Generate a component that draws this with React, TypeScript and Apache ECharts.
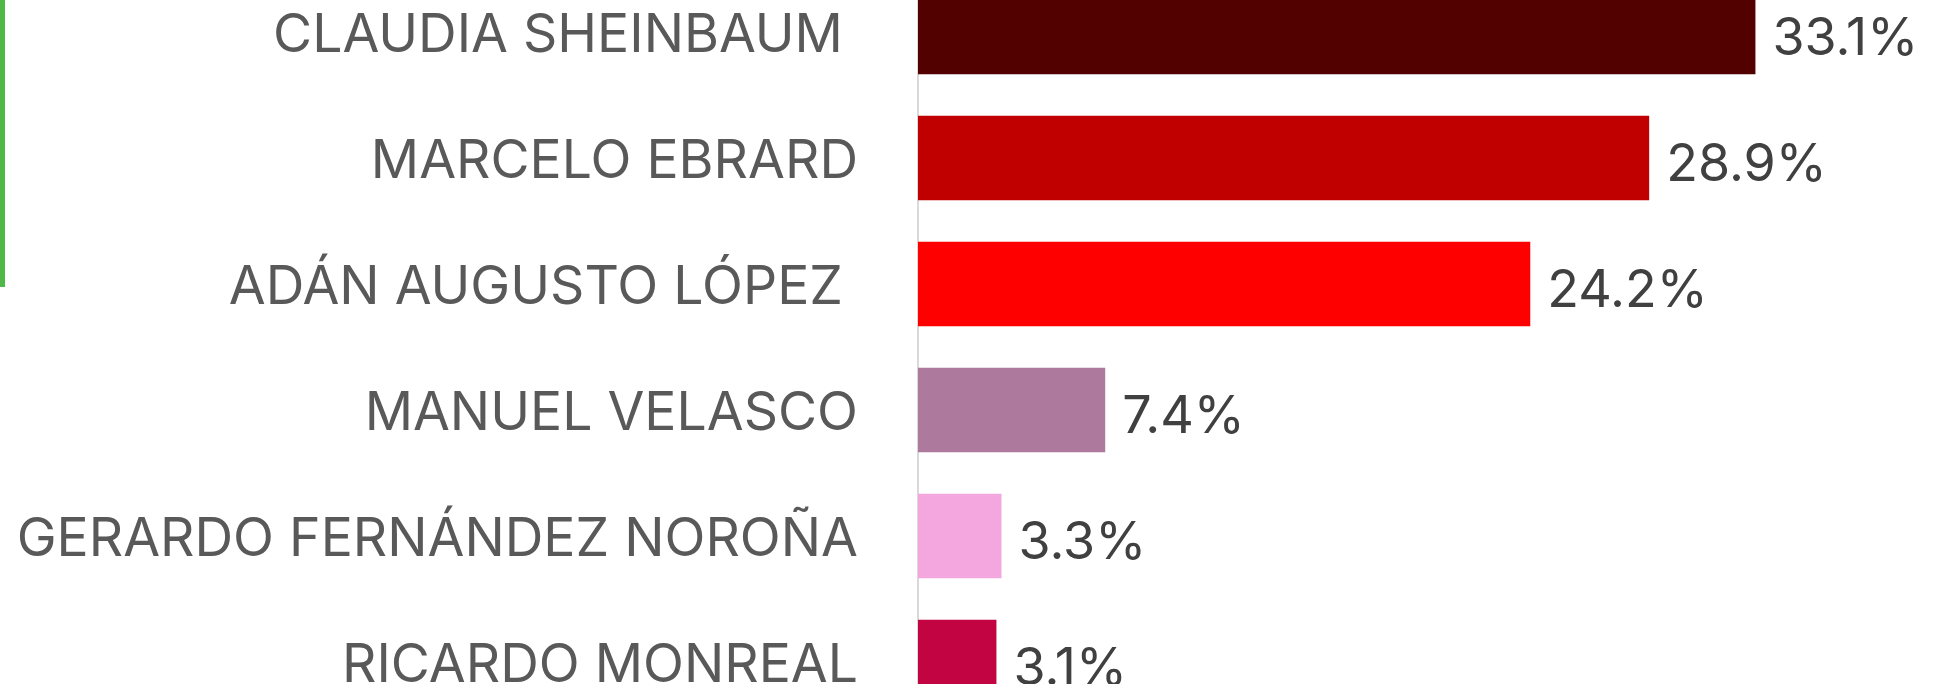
import React, { useEffect, useRef } from "react";
import * as echarts from "echarts";

const categories = [
  "CLAUDIA SHEINBAUM\u00a0",
  "MARCELO EBRARD",
  "ADÁN AUGUSTO LÓPEZ\u00a0",
  "MANUEL VELASCO",
  "GERARDO FERNÁNDEZ NOROÑA",
  "RICARDO MONREAL",
];
const values = [33.1, 28.9, 24.2, 7.4, 3.3, 3.1];
const barColors = ["#520000", "#c00000", "#ff0000", "#ad7a9e", "#f4a6de", "#c20442"];

const FONT = "Inter";

export default function App() {
  const ref = useRef<HTMLDivElement>(null);
  useEffect(() => {
    if (!ref.current) return;
    const chart = echarts.init(ref.current, null, { renderer: "svg" });
    chart.setOption({
      animation: false,
      backgroundColor: "#ffffff",
      grid: { left: 918, right: 7, top: 0, bottom: 0, containLabel: false },
      xAxis: {
        type: "value",
        min: 0,
        max: 40,
        show: false,
        splitLine: { show: false },
      },
      yAxis: {
        type: "category",
        inverse: true,
        data: categories,
        axisLine: { show: true, lineStyle: { color: "#d9d9d9", width: 2 } },
        axisTick: { show: false },
        axisLabel: {
          margin: 60,
          color: "#595959",
          fontFamily: FONT,
          fontSize: 53.5,
          padding: [2, 0, 0, 0],
        },
      },
      graphic: [
        {
          type: "rect",
          left: 0,
          top: 0,
          shape: { x: 0, y: 0, width: 5, height: 318 },
          style: { fill: "#50b848" },
        },
      ],
      series: [
        {
          type: "bar",
          data: values.map((v, i) => ({ value: v, itemStyle: { color: barColors[i] } })),
          barCategoryGap: "33%",
          label: {
            show: true,
            position: "right",
            distance: 18,
            offset: [-1, 4],
            formatter: "{c}%",
            color: "#404040",
            fontFamily: FONT,
            fontSize: 52,
          },
        },
      ],
    });
    return () => chart.dispose();
  }, []);
  return (
    <div style={{ position: "fixed", left: 0, top: 0, width: 1937, height: 684, overflow: "hidden", background: "#fff" }}>
      <div ref={ref} style={{ position: "absolute", left: 0, top: -31, width: 1937, height: 756 }} />
    </div>
  );
}
